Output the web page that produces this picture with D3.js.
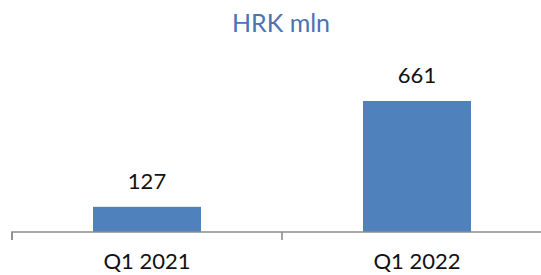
<!DOCTYPE html>
<html>
<head>
<meta charset="utf-8">
<script src="https://cdn.jsdelivr.net/npm/d3@7"></script>
<style>
  html, body { margin: 0; padding: 0; background: #fff; }
  svg { display: block; font-family: Lato, "Open Sans", sans-serif; }
</style>
</head>
<body>
<svg id="chart" width="541" height="275"></svg>
<script>
const categories = ["Q1 2021", "Q1 2022"];
const values = [127, 661];
const titleText = "HRK mln";

const svg = d3.select("#chart");
const baseY = 232;

const x = d3.scaleBand()
  .domain(categories)
  .range([12, 552])
  .paddingInner(0.6)
  .paddingOuter(0.3);

const y = d3.scaleLinear()
  .domain([0, 700])
  .range([baseY, baseY - 700 * 0.1982]);

// title
svg.append("text")
  .attr("x", 281)
  .attr("y", 32)
  .attr("text-anchor", "middle")
  .attr("font-size", 25)
  .attr("fill", "#4a74b3")
  .text(titleText);

// bars
svg.selectAll("rect.bar")
  .data(values)
  .join("rect")
  .attr("class", "bar")
  .attr("x", (d, i) => x(categories[i]))
  .attr("width", x.bandwidth())
  .attr("y", d => y(d))
  .attr("height", d => baseY - y(d))
  .attr("fill", "#4f81bd");

// value labels
svg.selectAll("text.val")
  .data(values)
  .join("text")
  .attr("class", "val")
  .attr("x", (d, i) => x(categories[i]) + x.bandwidth() / 2)
  .attr("y", d => y(d) - 18)
  .attr("text-anchor", "middle")
  .attr("font-size", 22)
  .attr("fill", "#111")
  .text(d => d);

// x axis
const axis = d3.axisBottom(x).tickSize(0).tickPadding(0);
const gx = svg.append("g")
  .attr("transform", `translate(0,${baseY})`)
  .call(axis);
gx.select(".domain").attr("stroke", "#8c8c8c").attr("stroke-width", 1.6)
  .attr("d", `M12,8V0H552`);
gx.selectAll(".tick text")
  .attr("font-size", 22)
  .attr("font-family", "Lato, 'Open Sans', sans-serif")
  .attr("fill", "#111")
  .attr("dy", 0)
  .attr("y", 37);

// category separator ticks (between bands)
const seps = [x.range()[0], x.range()[0] + x.step(), x.range()[0] + 2 * x.step()];
gx.selectAll("line.sep")
  .data(seps)
  .join("line")
  .attr("class", "sep")
  .attr("x1", d => d).attr("x2", d => d)
  .attr("y1", 0).attr("y2", 8)
  .attr("stroke", "#8c8c8c")
  .attr("stroke-width", 1.6);
</script>
</body>
</html>
